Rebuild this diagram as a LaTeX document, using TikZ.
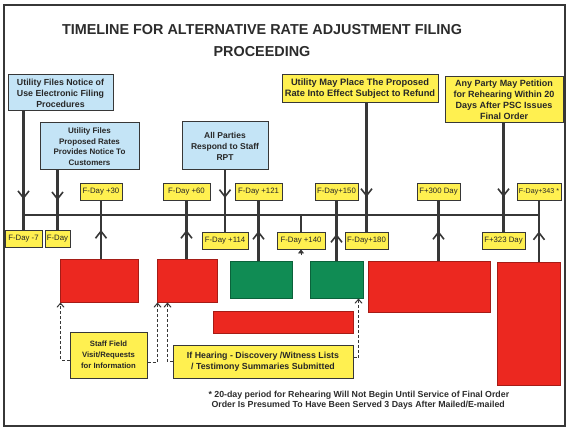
\documentclass[tikz,border=0pt]{standalone}
\usepackage{fontspec}
\setmainfont{Liberation Sans}
\usetikzlibrary{arrows.meta,decorations.markings}

\definecolor{boxblue}{RGB}{196,228,246}
\definecolor{boxyellow}{RGB}{255,240,80}
\definecolor{boxred}{RGB}{236,40,32}
\definecolor{boxgreen}{RGB}{16,140,84}
\definecolor{linegray}{RGB}{55,55,55}

\tikzset{
  boxdim/.style 2 args={minimum width=#1,minimum height=#2},
  plate/.style={draw=linegray,line width=1pt,inner sep=0pt,align=center,
    text=linegray!70!black,font=\bfseries\fontsize{8.5}{11}\selectfont},
  bluebox/.style={plate,fill=boxblue},
  notebox/.style={plate,fill=boxyellow},
  daybox/.style={plate,fill=boxyellow,line width=0.9pt,minimum height=17,
    font=\fontsize{7.8}{8}\selectfont},
  redbox/.style={plate,fill=boxred,draw=boxred!70!black},
  greenbox/.style={plate,fill=boxgreen,draw=boxgreen!70!black},
  axis/.style={linegray,line width=2.5pt},
  tipat/.style={postaction={decorate},decoration={markings,
    mark=at position #1 with {\arrow[line width=1.6pt]{Straight Barb[length=7pt,width=11pt]}}}},
  dashline/.style={linegray,densely dashed,line width=1pt,
    -{Straight Barb[length=4pt,width=7pt]}}
}

\begin{document}
\begin{tikzpicture}[x=1pt,y=-1pt]
\useasboundingbox (0,0) rectangle (570,430);
\draw[linegray,line width=2.2pt] (4,5) rectangle (565,426);

\node[font=\bfseries\fontsize{14.4}{22}\selectfont,align=center,text=linegray!80!black]
  (title) at (262,41) {TIMELINE FOR ALTERNATIVE RATE ADJUSTMENT FILING\\PROCEEDING};

% boxes above the line
\node[bluebox,boxdim={105}{36},font=\bfseries\fontsize{8.8}{11}\selectfont] (notice) at (60.5,93) {Utility Files Notice of\\Use Electronic Filing\\Procedures};
\node[bluebox,boxdim={99}{47},font=\bfseries\fontsize{8}{10.5}\selectfont] (rates) at (89.5,146.5) {Utility Files\\Proposed Rates\\Provides Notice To\\Customers};
\node[bluebox,boxdim={86}{48}] (respond) at (225,146) {All Parties\\Respond to Staff\\RPT};
\node[notebox,boxdim={156}{28},font=\bfseries\fontsize{9.3}{11}\selectfont] (refund) at (360,89) {Utility May Place The Proposed\\Rate Into Effect Subject to Refund};
\node[notebox,boxdim={118}{46},font=\bfseries\fontsize{9}{11}\selectfont] (petition) at (504,100) {Any Party May Petition\\for Rehearing Within 20\\Days After PSC Issues\\Final Order};

% day labels
\node[daybox,minimum width=42] (d30) at (101,191.5) {F-Day +30};
\node[daybox,minimum width=47] (d60) at (186.5,191.5) {F-Day +60};
\node[daybox,minimum width=47] (d121) at (258.5,191.5) {F-Day +121};
\node[daybox,minimum width=43] (d150) at (336.5,191.5) {F-Day+150};
\node[daybox,minimum width=43] (d300) at (438.5,191.5) {F+300 Day};
\node[daybox,minimum width=44,font=\fontsize{7.1}{8}\selectfont] (d343) at (539,191.5) {F-Day+343 *};
\node[daybox,minimum width=37] (dm7) at (23.5,239) {F-Day -7};
\node[daybox,minimum width=25] (d0) at (57.5,239) {F-Day};
\node[daybox,minimum width=46] (d114) at (225,240.5) {F-Day +114};
\node[daybox,minimum width=48] (d140) at (301,240.5) {F-Day +140};
\node[daybox,minimum width=43] (d180) at (366.5,240.5) {F-Day+180};
\node[daybox,minimum width=43] (d323) at (503.5,240.5) {F+323 Day};

% boxes below the line
\node[redbox,boxdim={78}{42}] (step1) at (99,281) {};
\node[redbox,boxdim={60}{42}] (step2) at (187,281) {};
\node[greenbox,boxdim={62}{36}] (step3) at (261,280) {};
\node[greenbox,boxdim={53}{36}] (step4) at (336.5,280) {};
\node[redbox,boxdim={122}{50}] (step5) at (429,287) {};
\node[redbox,boxdim={63}{122}] (step6) at (528.5,324) {};
\node[redbox,boxdim={140}{22}] (banner) at (283,322) {};
\node[notebox,boxdim={77}{46},font=\bfseries\fontsize{7.7}{11}\selectfont] (staff) at (108.5,355) {Staff Field\\Visit/Requests\\for Information};
\node[notebox,boxdim={180}{33},font=\bfseries\fontsize{8.8}{11}\selectfont] (hearing) at (263,361.5) {If Hearing - Discovery /Witness Lists\\/ Testimony Summaries Submitted};

% time line
\coordinate (tlL) at (23.5,215);
\coordinate (tlR) at (539,215);
\draw[axis] (tlL) -- (tlR);

% arrows down
\draw[axis,tipat=0.74] (dm7.north |- notice.south) -- (dm7.north);
\draw[axis,tipat=0.5] (d0.north |- rates.south) -- (d0.north);
\draw[axis,tipat=0.45] (respond.south) -- (d114.north);
\draw[axis,tipat=0.73] (d180.north |- refund.south) -- (d180.north);
\draw[axis,tipat=0.68] (d323.north |- petition.south) -- (d323.north);
\draw[axis] (d140.north) -- (d140.north |- tlL);

% arrows up
\draw[axis,tipat=0.5] (d30.south |- step1.north) -- (d30.south);
\draw[axis,tipat=0.5] (d60.south |- step2.north) -- (d60.south);
\draw[axis,tipat=0.5] (d121.south |- step3.north) -- (d121.south);
\draw[axis,tipat=0.45] (d150.south |- step4.north) -- (d150.south);
\draw[axis,tipat=0.5] (d300.south |- step5.north) -- (d300.south);
\draw[axis,tipat=0.5] (d343.south |- step6.north) -- (d343.south);
\coordinate (t140) at ([yshift=-6pt]d140.south);
\draw[linegray,line width=0.8pt,-{Triangle[length=4pt,width=6pt]}] (t140) -- (d140.south);

% dashed links
\draw[dashline] ([yshift=-5pt]staff.west) -| ([xshift=1pt]step1.south west);
\draw[dashline] ([yshift=-7pt]staff.east) -| ([xshift=1pt]step2.south west);
\draw[dashline] (hearing.west) -| ([xshift=11pt]step2.south west);
\draw[dashline] ([yshift=4pt]hearing.east) -| ([xshift=-5pt]step4.south east);

\node[anchor=west,align=left,text=linegray!80!black,font=\bfseries\fontsize{8.8}{10.5}\selectfont]
  (note) at (205,400) {* 20-day period for Rehearing Will Not Begin Until Service of Final Order\\
  \hspace{3pt}Order Is Presumed To Have Been Served 3 Days After Mailed/E-mailed};
\end{tikzpicture}
\end{document}
